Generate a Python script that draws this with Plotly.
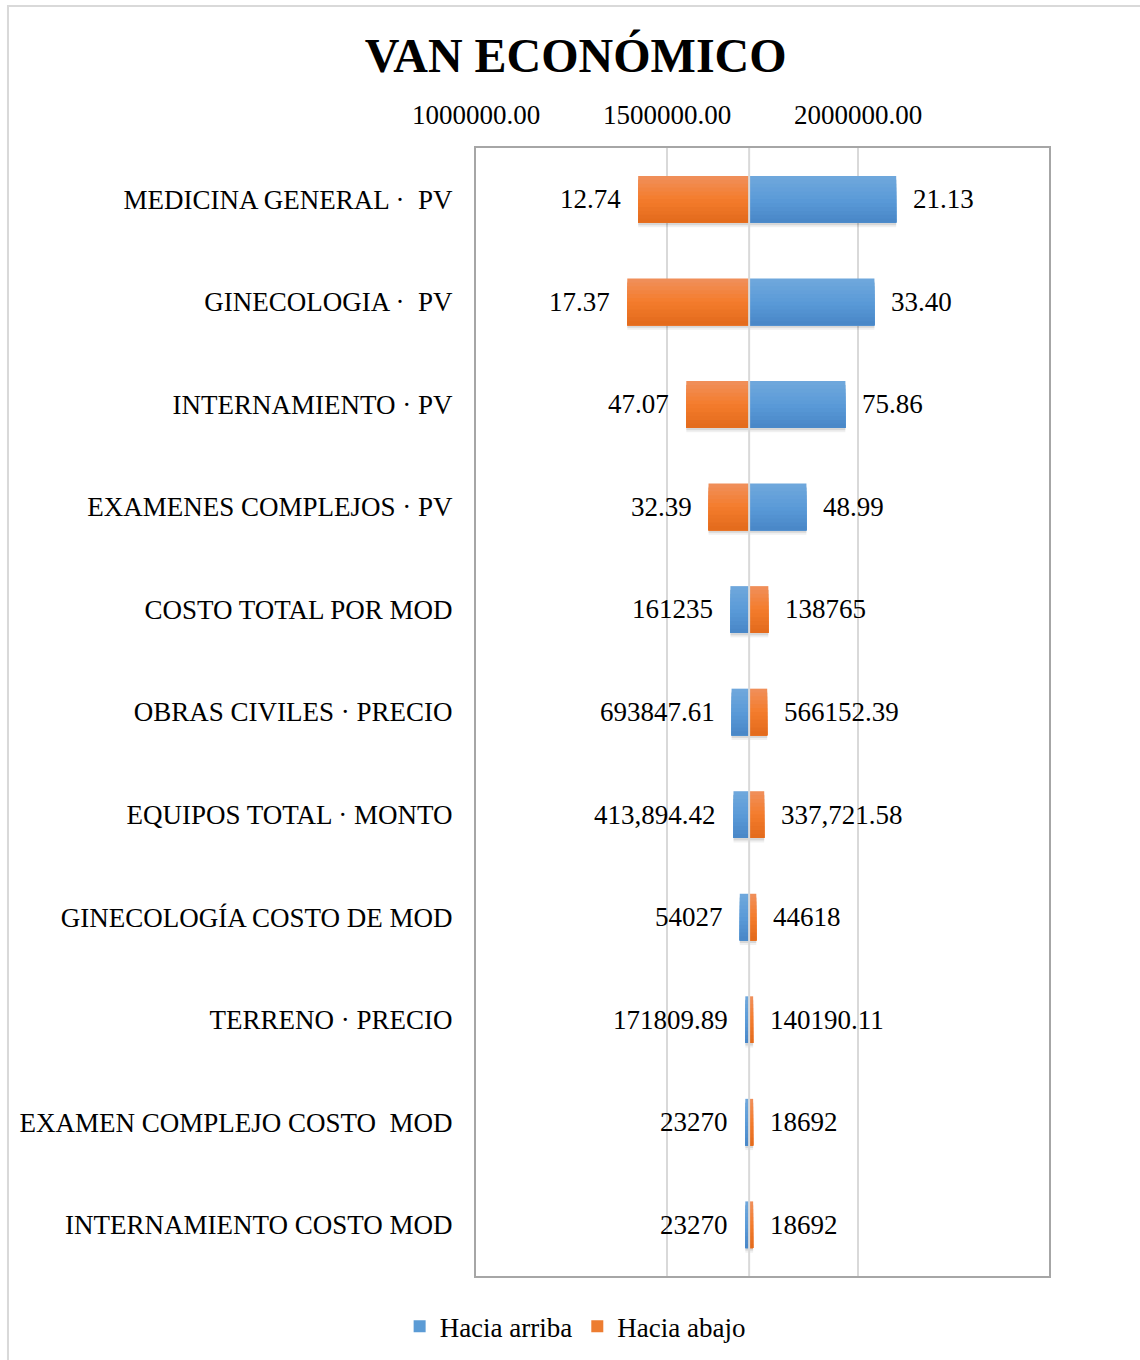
import plotly.graph_objects as go

# Sensitivity (tornado) chart of the economic NPV
BASE_VAN = 1715000

categories = [
    "MEDICINA GENERAL ·\u00a0 PV",
    "GINECOLOGIA ·\u00a0 PV",
    "INTERNAMIENTO · PV",
    "EXAMENES COMPLEJOS · PV",
    "COSTO TOTAL POR MOD",
    "OBRAS CIVILES · PRECIO",
    "EQUIPOS TOTAL · MONTO",
    "GINECOLOGÍA COSTO DE MOD",
    "TERRENO · PRECIO",
    "EXAMEN COMPLEJO COSTO\u00a0 MOD",
    "INTERNAMIENTO COSTO MOD",
]

# NPV reached when the input moves up / down
van_arriba = [2100000, 2043000, 1967000, 1865000, 1666000, 1669000,
              1674000, 1690500, 1705000, 1705000, 1705000]
van_abajo = [1424500, 1396000, 1550500, 1608700, 1765300, 1762300,
             1754500, 1733800, 1725500, 1725500, 1725500]

# Input values shown next to each bar end
lbl_arriba = ["21.13", "33.40", "75.86", "48.99", "161235", "693847.61",
              "413,894.42", "54027", "171809.89", "23270", "23270"]
lbl_abajo = ["12.74", "17.37", "47.07", "32.39", "138765", "566152.39",
             "337,721.58", "44618", "140190.11", "18692", "18692"]

tick_vals = [1000000, 1500000, 2000000]
x_range = [1000000, 2500000]

FONT = "Liberation Serif"
TXT = 27
BAR_W = 0.455      # bar thickness in category units
N_BANDS = 12       # steps used for the vertical shading of each bar

# shading stops: top, middle, bottom
BLUE_STOPS = [(0x70, 0xA8, 0xDC), (0x5B, 0x9B, 0xD8), (0x48, 0x86, 0xC7)]
ORANGE_STOPS = [(0xF0, 0x90, 0x5C), (0xF4, 0x7C, 0x2C), (0xE2, 0x6A, 0x1C)]


def shade(stops, t):
    if t <= 0.5:
        a, b, f = stops[0], stops[1], t / 0.5
    else:
        a, b, f = stops[1], stops[2], (t - 0.5) / 0.5
    r, g, bl = (round(a[i] + (b[i] - a[i]) * f) for i in range(3))
    return f"rgb({r},{g},{bl})"


fig = go.Figure()

series = [
    ("Hacia arriba", van_arriba, BLUE_STOPS, "#5B9BD5"),
    ("Hacia abajo", van_abajo, ORANGE_STOPS, "#ED7D31"),
]

# soft drop shadow under the bars
for name, vals, stops, legend_color in series:
    for dy, alpha in ((0.045, 0.06), (0.025, 0.10)):
        fig.add_trace(go.Bar(
            y=categories, x=[v - BASE_VAN for v in vals], base=BASE_VAN,
            orientation="h", width=BAR_W, offset=-BAR_W / 2 + dy,
            marker=dict(color=f"rgba(0,0,0,{alpha})", line=dict(width=0)),
            showlegend=False, hoverinfo="skip",
        ))

for name, vals, stops, legend_color in series:
    for k in range(N_BANDS):
        start = BAR_W * k / N_BANDS
        fig.add_trace(go.Bar(
            y=categories, x=[v - BASE_VAN for v in vals], base=BASE_VAN,
            orientation="h", width=BAR_W - start, offset=-BAR_W / 2 + start,
            marker=dict(color=shade(stops, (k + 0.5) / N_BANDS), line=dict(width=0)),
            name=name, legendgroup=name, showlegend=False, hoverinfo="skip",
        ))
    # legend entry
    fig.add_trace(go.Bar(
        y=[None], x=[None], orientation="h", name=name, legendgroup=name,
        marker=dict(color=legend_color, line=dict(width=0)), hoverinfo="skip",
    ))

# value labels just outside each bar end
annotations = []
for cat, va, vb, la, lb in zip(categories, van_arriba, van_abajo, lbl_arriba, lbl_abajo):
    for v, txt in ((va, la), (vb, lb)):
        left = v < BASE_VAN
        annotations.append(dict(
            x=v, y=cat, xref="x", yref="y", text=txt, showarrow=False,
            xanchor="right" if left else "left", yanchor="middle",
            xshift=-15 if left else 15,
            font=dict(family=FONT, size=TXT, color="#000000"),
        ))

shapes = [
    # vertical axis crossing at the base NPV
    dict(type="line", xref="x", yref="paper", x0=BASE_VAN, x1=BASE_VAN, y0=0, y1=1,
         line=dict(color="#D9D9D9", width=2), layer="above"),
    # chart area frame
    dict(type="rect", xref="paper", yref="paper",
         x0=-0.8168, x1=1.17, y0=-0.08, y1=1.1259,
         line=dict(color="#D9D9D9", width=2), fillcolor="rgba(0,0,0,0)", layer="below"),
]

fig.update_layout(
    width=1140, height=1360,
    margin=dict(l=476, r=91, t=148, b=84),
    paper_bgcolor="white", plot_bgcolor="white",
    barmode="overlay",
    font=dict(family=FONT, size=TXT, color="#000000"),
    title=dict(text="VAN ECONÓMICO", x=0.505, xanchor="center", y=0.9595, yanchor="middle",
               font=dict(family=FONT, size=48, color="#000000", weight="bold")),
    xaxis=dict(side="top", range=x_range, tickvals=tick_vals, tickformat=".2f",
               showgrid=True, gridcolor="#D9D9D9", gridwidth=1.5,
               showline=True, mirror=True, linecolor="#A6A6A6", linewidth=2,
               zeroline=False, ticks="", ticklabelstandoff=11,
               tickfont=dict(family=FONT, size=TXT, color="#000000")),
    yaxis=dict(type="category", categoryorder="array", categoryarray=categories,
               autorange="reversed", showgrid=False,
               showline=True, mirror=True, linecolor="#A6A6A6", linewidth=2,
               ticks="", ticklabelstandoff=16,
               tickfont=dict(family=FONT, size=TXT, color="#000000")),
    legend=dict(orientation="h", xref="container", yref="container",
                x=0.5045, xanchor="center", y=0.0245, yanchor="middle",
                font=dict(family=FONT, size=TXT, color="#000000"),
                itemclick=False, itemdoubleclick=False),
    annotations=annotations,
    shapes=shapes,
    showlegend=True,
)

fig.write_html("out.html")
